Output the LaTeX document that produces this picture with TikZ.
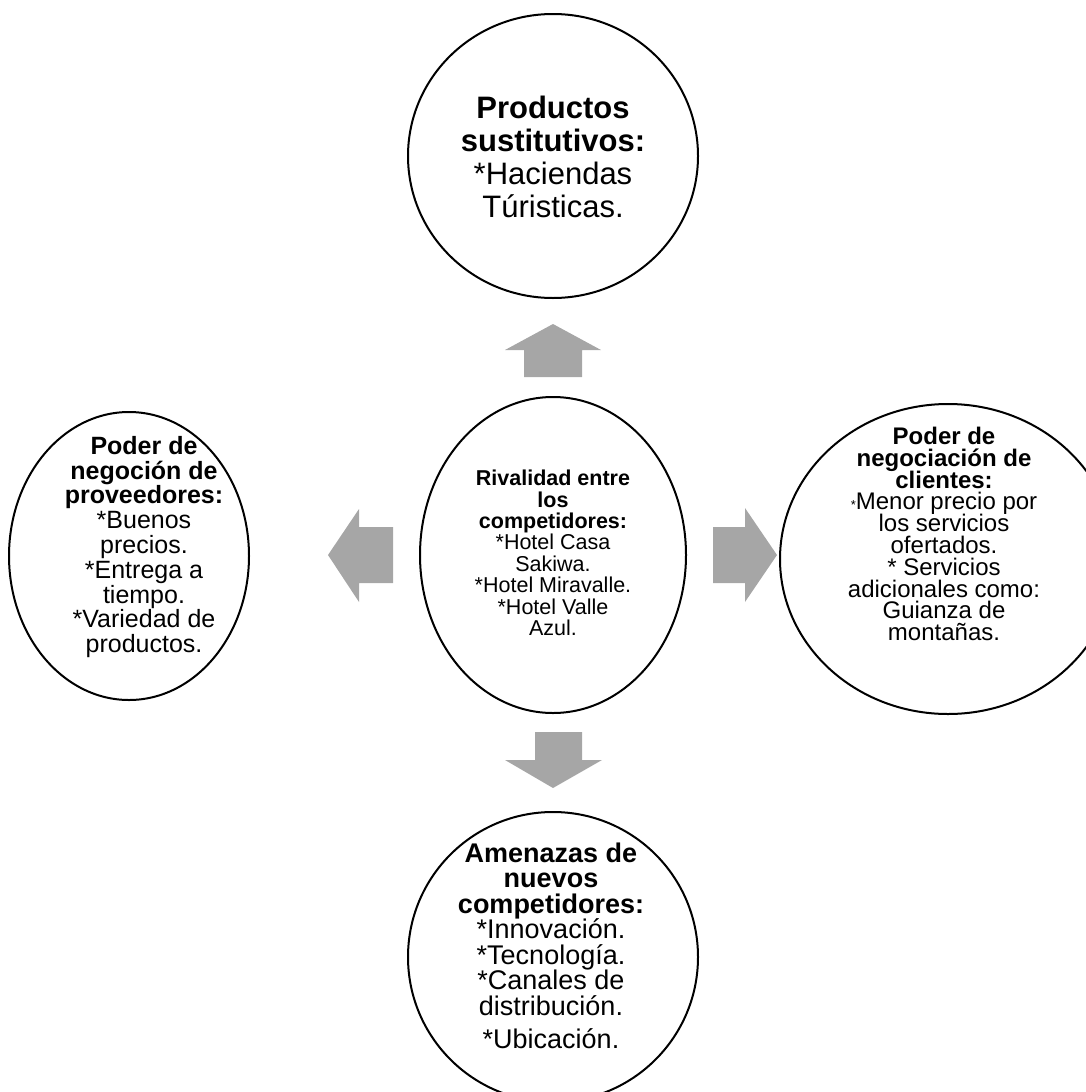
\documentclass[tikz,border=0pt]{standalone}
\usepackage{fontspec}
\setmainfont{Liberation Sans}
\usetikzlibrary{shapes.geometric, positioning}
\definecolor{arrowgray}{RGB}{166,166,166}

\begin{document}
\begin{tikzpicture}[x=1pt, y=-1pt,
    force/.style={draw, ellipse, line width=2pt, inner sep=0pt},
    forcetext/.style={align=center, inner sep=0pt},
    blockarrow/.style={fill=arrowgray, draw=none},
    ]
    \useasboundingbox (0,0) rectangle (1086,1092);

    % Fuerzas (elipses)
    \node[force, minimum width=290pt, minimum height=284pt] (sust) at (553,156) {};
    \node[force, minimum width=266pt, minimum height=316pt] (rival) at (553,555) {};
    \node[force, minimum width=240pt, minimum height=288pt] (prov) at (129,556) {};
    \node[force, minimum width=336pt, minimum height=310pt] (cli) at (948,559) {};
    \node[force, minimum width=290pt, minimum height=290pt] (amen) at (553,957) {};

    % Textos
    \node[forcetext, font={\fontsize{31}{33}\selectfont\lineskiplimit=-50pt}] (sust-txt) at (553,157)
        {\textbf{Productos}\\\textbf{sustitutivos:}\\*Haciendas\\Túristicas.};
    \node[forcetext, font={\fontsize{21.5}{21.4}\selectfont\lineskiplimit=-50pt}] (rival-txt) at (553,553)
        {\textbf{Rivalidad entre}\\\textbf{los}\\\textbf{competidores:}\\*Hotel Casa\\Sakiwa.\\*Hotel Miravalle.\\*Hotel Valle\\Azul.};
    \node[forcetext, font={\fontsize{25}{24.8}\selectfont\lineskiplimit=-50pt}] (prov-txt) at (144,547)
        {\textbf{Poder de}\\\textbf{negoción de}\\\textbf{proveedores:}\\*Buenos\\precios.\\*Entrega a\\tiempo.\\*Variedad de\\productos.};
    \node[forcetext, font={\fontsize{24}{21.8}\selectfont\lineskiplimit=-50pt}] (cli-txt) at (944,534)
        {\textbf{Poder de}\\\textbf{negociación de}\\\textbf{clientes:}\\{\fontsize{13}{13}\selectfont *}Menor precio por\\los servicios\\ofertados.\\* Servicios\\adicionales como:\\Guianza de\\montañas.};
    \node[forcetext, font={\fontsize{27}{25.5}\selectfont\lineskiplimit=-50pt}] (amen-txt) at (551,946)
        {\textbf{Amenazas de}\\\textbf{nuevos}\\\textbf{competidores:}\\*Innovación.\\*Tecnología.\\*Canales de\\distribución.\\[8pt]*Ubicación.};

    % Flechas de bloque
    \fill[blockarrow] (553,324) -- ++(48,26) -- ++(-19,0) -- ++(0,27) -- ++(-58,0) -- ++(0,-27) -- ++(-19,0) -- cycle;
    \fill[blockarrow] (328,555) -- ++(31,-46) -- ++(0,18) -- ++(34,0) -- ++(0,56) -- ++(-34,0) -- ++(0,19) -- cycle;
    \fill[blockarrow] (777,555) -- ++(-32,-47) -- ++(0,19) -- ++(-32,0) -- ++(0,56) -- ++(32,0) -- ++(0,19) -- cycle;
    \fill[blockarrow] (553,788) -- ++(49,-28) -- ++(-20,0) -- ++(0,-28) -- ++(-47,0) -- ++(0,28) -- ++(-30,0) -- cycle;
\end{tikzpicture}
\end{document}
